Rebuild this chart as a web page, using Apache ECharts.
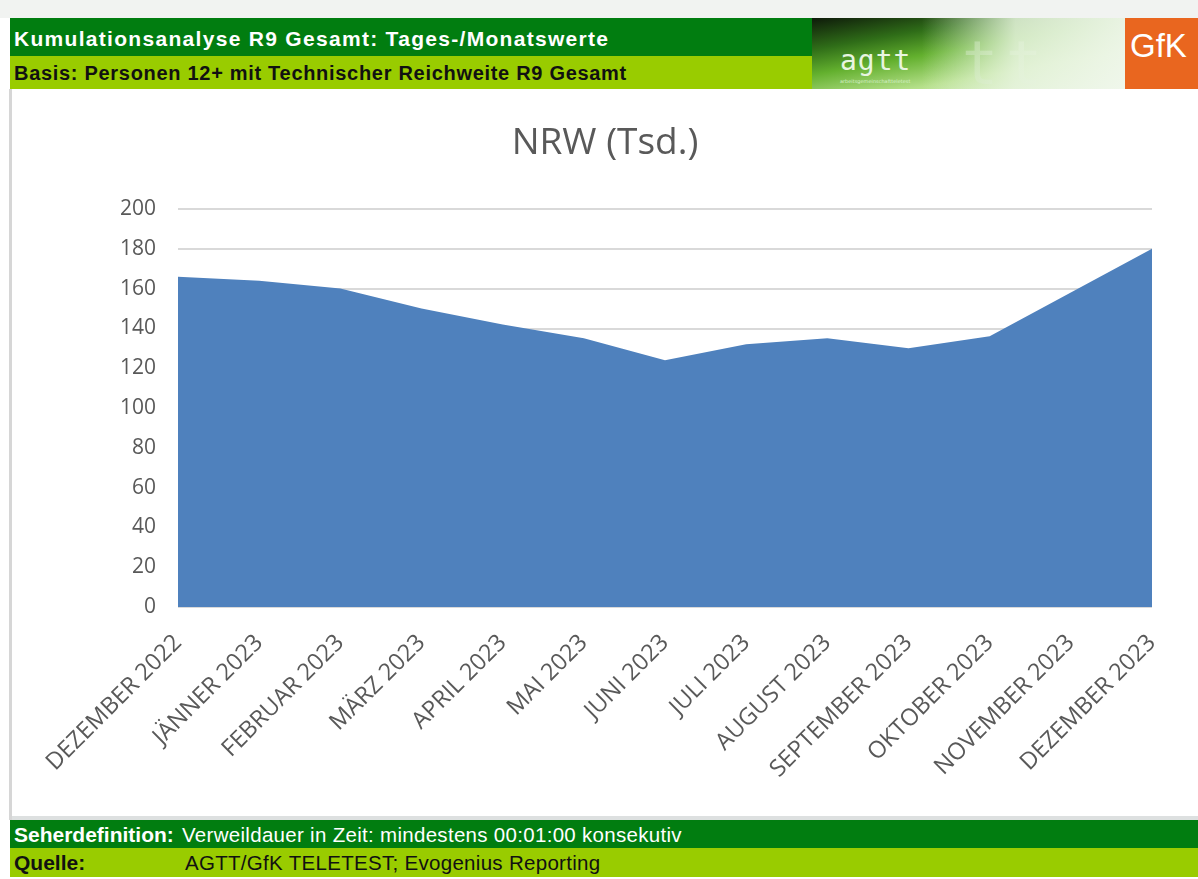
<!DOCTYPE html>
<html>
<head>
<meta charset="utf-8">
<script src="https://cdn.jsdelivr.net/npm/echarts@6/dist/echarts.min.js"></script>
<style>
  html, body { margin: 0; padding: 0; background: #fff; }
  #page { position: relative; width: 1198px; height: 879px; overflow: hidden; background: #fff; }
  #topstrip { position: absolute; left: 0; top: 0; width: 1198px; height: 18px; background: #f1f3f1; }
  #leftline { position: absolute; left: 9px; top: 89px; width: 3px; height: 731px; background: #d6d6d6; }
  #bottomline { position: absolute; left: 12px; top: 816px; width: 1186px; height: 4px; background: #dde0e0; }
  #main { position: absolute; left: 12px; top: 89px; width: 1186px; height: 727px; background: #fff; }
  .band { position: absolute; left: 10px; font-family: "Liberation Sans", Arial, sans-serif; white-space: nowrap; }
  #h1 { top: 18px; width: 802px; height: 38px; background: #017d10; color: #fff; font-weight: bold; font-size: 21px; letter-spacing: 1.3px; line-height: 42px; padding-left: 4px; box-sizing: border-box; }
  #h2 { top: 56px; width: 802px; height: 33px; background: #99cc00; color: #111; font-weight: bold; font-size: 20px; letter-spacing: 0.7px; line-height: 34px; padding-left: 4px; box-sizing: border-box; }
  #logo { position: absolute; left: 812px; top: 18px; width: 313px; height: 71px;
    background: linear-gradient(170deg, #0e1a0a 0%, #2f6d18 25%, #63b02e 45%, #b5e08a 70%, #e6f3dc 100%); overflow: hidden; }
  #logo .fade { position: absolute; left: 0; top: 0; width: 313px; height: 71px;
    background: linear-gradient(90deg, rgba(238,246,232,0) 0%, rgba(238,246,232,0) 35%, rgba(232,244,224,0.85) 65%, rgba(240,247,236,0.95) 100%); }
  #logo .ghost { position: absolute; left: 150px; top: 10px; font-family: "DejaVu Sans Mono", monospace; font-size: 60px; color: rgba(205,228,190,0.45); letter-spacing: 8px; }
  #logo .agtt { position: absolute; left: 28px; top: 26px; font-family: "DejaVu Sans Mono", monospace; font-size: 28px; color: #e8f5e0; letter-spacing: 1px; }
  #logo .sub { position: absolute; left: 28px; top: 60px; font-family: "DejaVu Sans", sans-serif; font-size: 5px; color: #d8f0cc; }
  #gfk { position: absolute; left: 1125px; top: 18px; width: 73px; height: 71px; background: #e9661f; color: #fff;
    font-family: "Liberation Sans", Arial, sans-serif; font-size: 33px; line-height: 56px; padding-left: 5px; box-sizing: border-box; }
  #f1 { top: 820px; width: 1188px; height: 28px; background: #017d10; color: #fff; line-height: 29px; }
  #f2 { top: 848px; width: 1188px; height: 29px; background: #99cc00; color: #111; line-height: 29px; }
  .lab { position: absolute; left: 4px; font-weight: bold; font-size: 21px; }
  .val { position: absolute; font-size: 20.5px; letter-spacing: 0.3px; }
  #f1 .val { left: 172px; }
  #f2 .val { left: 175px; }
</style>
</head>
<body>
<div id="page">
  <div id="topstrip"></div>
  <div id="main"></div>
  <div id="leftline"></div>
  <div id="bottomline"></div>
  <div id="h1" class="band">Kumulationsanalyse R9 Gesamt: Tages-/Monatswerte</div>
  <div id="h2" class="band">Basis: Personen 12+ mit Technischer Reichweite R9 Gesamt</div>
  <div id="logo"><span class="ghost">tt</span><div class="fade"></div><span class="agtt">agtt</span><span class="sub">arbeitsgemeinschaftteletest</span></div>
  <div id="gfk">GfK</div>
  <div id="f1" class="band"><span class="lab">Seherdefinition:</span><span class="val">Verweildauer in Zeit: mindestens 00:01:00 konsekutiv</span></div>
  <div id="f2" class="band"><span class="lab">Quelle:</span><span class="val">AGTT/GfK TELETEST; Evogenius Reporting</span></div>
</div>
<script>
var months = ['DEZEMBER 2022', 'JÄNNER 2023', 'FEBRUAR 2023', 'MÄRZ 2023', 'APRIL 2023', 'MAI 2023',
  'JUNI 2023', 'JULI 2023', 'AUGUST 2023', 'SEPTEMBER 2023', 'OKTOBER 2023', 'NOVEMBER 2023', 'DEZEMBER 2023'];
var nrwValues = [166, 164, 160, 150, 142, 135, 124, 132, 135, 130, 136, 158, 180];
var yTicks = [0, 200, 20];  // min, max, interval

var myChart = echarts.init(document.getElementById('main'));
var option = {
  animation: false,
  title: {
    text: 'NRW (Tsd.)',
    left: 'center',
    top: 31,
    textStyle: { fontFamily: 'Open Sans', fontSize: 37, fontWeight: 'normal', color: '#595959' }
  },
  grid: { left: 166, right: 46, top: 120, bottom: 209 },
  xAxis: {
    type: 'category',
    boundaryGap: false,
    data: months,
    axisLine: { show: false },
    axisTick: { show: false },
    axisLabel: { rotate: 45, interval: 0, margin: 32, fontFamily: 'Open Sans', fontSize: 23.5, color: '#595959' }
  },
  yAxis: {
    type: 'value',
    min: yTicks[0],
    max: yTicks[1],
    interval: yTicks[2],
    axisLabel: { fontFamily: 'Open Sans', fontSize: 21, color: '#595959', margin: 22 },
    splitLine: { lineStyle: { color: '#d9d9d9', width: 2 } }
  },
  series: [{
    name: 'NRW',
    type: 'line',
    data: nrwValues,
    symbol: 'none',
    lineStyle: { width: 0 },
    areaStyle: { color: '#4f81bd', opacity: 1 }
  }]
};
myChart.setOption(option);
</script>
</body>
</html>
